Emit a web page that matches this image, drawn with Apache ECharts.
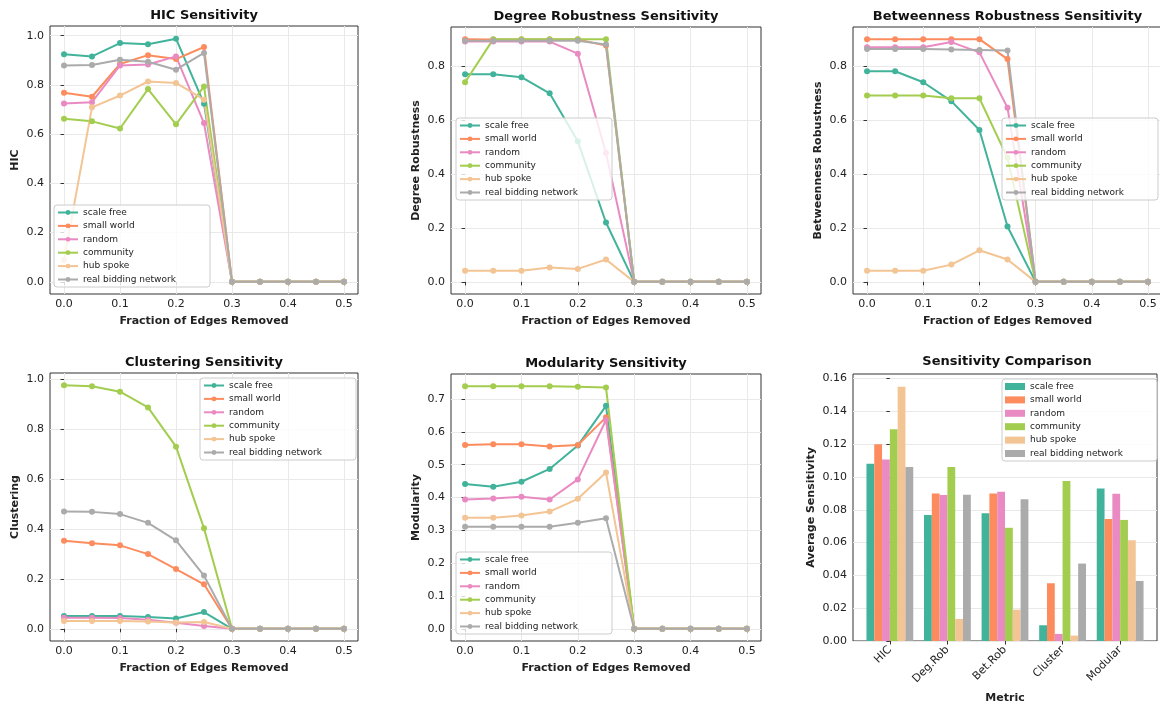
<!DOCTYPE html>
<html><head><meta charset="utf-8">
<script src="https://cdn.jsdelivr.net/npm/echarts@6/dist/echarts.min.js"></script>
<style>html,body{margin:0;padding:0;background:#fff}#c{width:1160px;height:704px}</style>
</head><body><div id="c"></div>
<script>
// ---------- data ----------
const fractions = [0, 0.05, 0.1, 0.15, 0.2, 0.25, 0.3, 0.35, 0.4, 0.45, 0.5];
const networks = ['scale free', 'small world', 'random', 'community', 'hub spoke', 'real bidding network'];
const colors = ['#42b39b', '#fc8c5e', '#e98ac2', '#a3cd4f', '#f3c494', '#ababab'];

// rows follow the order of `networks`
const hicValues = [
  [0.925, 0.916, 0.970, 0.965, 0.988, 0.724, 0, 0, 0, 0, 0],
  [0.768, 0.752, 0.885, 0.921, 0.905, 0.954, 0, 0, 0, 0, 0],
  [0.725, 0.730, 0.879, 0.883, 0.916, 0.645, 0, 0, 0, 0, 0],
  [0.663, 0.652, 0.623, 0.783, 0.640, 0.794, 0, 0, 0, 0, 0],
  [0.089, 0.709, 0.757, 0.814, 0.808, 0.740, 0, 0, 0, 0, 0],
  [0.879, 0.881, 0.902, 0.894, 0.862, 0.930, 0, 0, 0, 0, 0]
];
const degreeValues = [
  [0.770, 0.770, 0.759, 0.699, 0.521, 0.220, 0, 0, 0, 0, 0],
  [0.900, 0.899, 0.899, 0.899, 0.899, 0.876, 0, 0, 0, 0, 0],
  [0.891, 0.891, 0.891, 0.891, 0.846, 0.478, 0, 0, 0, 0, 0],
  [0.740, 0.900, 0.900, 0.900, 0.900, 0.900, 0, 0, 0, 0, 0],
  [0.041, 0.041, 0.041, 0.053, 0.048, 0.083, 0, 0, 0, 0, 0],
  [0.894, 0.894, 0.894, 0.894, 0.894, 0.880, 0, 0, 0, 0, 0]
];
const betweennessValues = [
  [0.781, 0.781, 0.740, 0.670, 0.563, 0.205, 0, 0, 0, 0, 0],
  [0.900, 0.900, 0.900, 0.900, 0.900, 0.826, 0, 0, 0, 0, 0],
  [0.870, 0.870, 0.870, 0.889, 0.851, 0.646, 0, 0, 0, 0, 0],
  [0.691, 0.691, 0.691, 0.681, 0.681, 0.460, 0, 0, 0, 0, 0],
  [0.041, 0.041, 0.041, 0.064, 0.117, 0.083, 0, 0, 0, 0, 0],
  [0.863, 0.863, 0.863, 0.862, 0.860, 0.858, 0, 0, 0, 0, 0]
];
const clusteringValues = [
  [0.051, 0.051, 0.051, 0.047, 0.041, 0.067, 0, 0, 0, 0, 0],
  [0.352, 0.342, 0.334, 0.299, 0.239, 0.178, 0, 0, 0, 0, 0],
  [0.044, 0.044, 0.043, 0.036, 0.024, 0.011, 0, 0, 0, 0, 0],
  [0.975, 0.971, 0.949, 0.886, 0.729, 0.402, 0, 0, 0, 0, 0],
  [0.031, 0.031, 0.031, 0.029, 0.025, 0.027, 0, 0, 0, 0, 0],
  [0.469, 0.468, 0.459, 0.424, 0.354, 0.213, 0, 0, 0, 0, 0]
];
const modularityValues = [
  [0.441, 0.433, 0.448, 0.487, 0.558, 0.679, 0, 0, 0, 0, 0],
  [0.560, 0.562, 0.562, 0.555, 0.560, 0.644, 0, 0, 0, 0, 0],
  [0.394, 0.397, 0.402, 0.394, 0.455, 0.636, 0, 0, 0, 0, 0],
  [0.739, 0.739, 0.739, 0.739, 0.737, 0.735, 0, 0, 0, 0, 0],
  [0.338, 0.338, 0.345, 0.357, 0.396, 0.476, 0, 0, 0, 0, 0],
  [0.311, 0.311, 0.311, 0.311, 0.323, 0.337, 0, 0, 0, 0, 0]
];
const metricLabels = ['HIC', 'Deg.Rob', 'Bet.Rob', 'Cluster', 'Modular'];
const sensitivityValues = [
  [0.108, 0.0768, 0.0779, 0.0096, 0.0929],
  [0.120, 0.0899, 0.0899, 0.0352, 0.0744],
  [0.1106, 0.0890, 0.0910, 0.0043, 0.0897],
  [0.129, 0.106, 0.069, 0.0976, 0.0738],
  [0.155, 0.0134, 0.0191, 0.0033, 0.0614],
  [0.106, 0.0892, 0.0864, 0.0472, 0.0366]
];
const xTicks = [0, 0.1, 0.2, 0.3, 0.4, 0.5];
const yTicksUnit = [0, 0.2, 0.4, 0.6, 0.8, 1.0];
const yTicksRob = [0, 0.2, 0.4, 0.6, 0.8];
const yTicksMod = [0, 0.1, 0.2, 0.3, 0.4, 0.5, 0.6, 0.7];
const yTicksSens = [0, 0.02, 0.04, 0.06, 0.08, 0.10, 0.12, 0.14, 0.16];
const metricTicks = [0, 1, 2, 3, 4];

// ---------- styling / layout ----------
const FONT = 'DejaVu Sans';
const TXT = '#222';
const panels = [
  {title: 'HIC Sensitivity', ylabel: 'HIC', values: hicValues, grid: {left: 50, top: 26, width: 308, height: 268}, y: [-0.0495, 1.0395], yt: yTicksUnit, legend: [54, 205]},
  {title: 'Degree Robustness Sensitivity', ylabel: 'Degree Robustness', values: degreeValues, grid: {left: 451, top: 27, width: 310, height: 267}, y: [-0.045, 0.945], yt: yTicksRob, legend: [456, 118]},
  {title: 'Betweenness Robustness Sensitivity', ylabel: 'Betweenness Robustness', values: betweennessValues, grid: {left: 853, top: 27, width: 309, height: 267}, y: [-0.045, 0.945], yt: yTicksRob, legend: [1002, 118]},
  {title: 'Clustering Sensitivity', ylabel: 'Clustering', values: clusteringValues, grid: {left: 50, top: 373, width: 308, height: 268}, y: [-0.04875, 1.02375], yt: yTicksUnit, legend: [200, 378]},
  {title: 'Modularity Sensitivity', ylabel: 'Modularity', values: modularityValues, grid: {left: 451, top: 374, width: 310, height: 267}, y: [-0.037, 0.776], yt: yTicksMod, legend: [456, 552]}
];
const barPanel = {title: 'Sensitivity Comparison', ylabel: 'Average Sensitivity', grid: {left: 853, top: 374, width: 304, height: 267}, y: [0, 0.16275], legend: [1002, 379]};

const grids = [], xAxes = [], yAxes = [], series = [], legends = [], graphics = [];

function gridOf(g) {
  return Object.assign({show: true, borderColor: '#333', borderWidth: 1, backgroundColor: 'transparent', containLabel: false, outerBoundsMode: 'none'}, g);
}
function tickStyle(vals) {
  return {show: true, inside: false, length: 3.5, customValues: vals, lineStyle: {color: '#333', width: 1}};
}
function legendAt(pos, isBar) {
  const l = {
    orient: 'vertical', left: pos[0], top: pos[1],
    data: networks.slice(),
    itemWidth: 20, itemHeight: isBar ? 7 : 6, itemGap: 2.4,
    padding: [2, 6, 2, 3],
    backgroundColor: 'rgba(255,255,255,0.8)', borderColor: '#cccccc', borderWidth: 1, borderRadius: 3,
    textStyle: {fontSize: 9, fontFamily: FONT, color: TXT, lineHeight: 11, width: 121},
    selectedMode: false, z: 10
  };
  if (isBar) l.icon = 'rect';
  return l;
}
function titleText(text, cx, cy) {
  return {type: 'text', x: cx, y: cy, z: 100,
    style: {text, fontFamily: FONT, fontWeight: 'bold', fontSize: 13, fill: '#111', textAlign: 'center', textVerticalAlign: 'middle'}};
}

panels.forEach((p, i) => {
  grids.push(gridOf(p.grid));
  xAxes.push({
    type: 'value', gridIndex: i, min: -0.025, max: 0.525,
    name: 'Fraction of Edges Removed', nameLocation: 'middle', nameGap: 22,
    nameTextStyle: {fontFamily: FONT, fontWeight: 'bold', fontSize: 11, color: TXT},
    axisLine: {show: false}, axisTick: tickStyle(xTicks),
    axisLabel: {customValues: xTicks, formatter: v => v.toFixed(1), fontFamily: FONT, fontSize: 11, color: TXT, margin: 5},
    splitLine: {show: true, lineStyle: {color: '#e9e9e9', width: 1}}
  });
  yAxes.push({
    type: 'value', gridIndex: i, min: p.y[0], max: p.y[1],
    name: p.ylabel, nameLocation: 'middle', nameGap: 29, nameRotate: 90,
    nameTextStyle: {fontFamily: FONT, fontWeight: 'bold', fontSize: 11, color: TXT},
    axisLine: {show: false}, axisTick: tickStyle(p.yt),
    axisLabel: {customValues: p.yt, formatter: v => v.toFixed(1), fontFamily: FONT, fontSize: 11, color: TXT, margin: 6},
    splitLine: {show: true, lineStyle: {color: '#e9e9e9', width: 1}}
  });
  networks.forEach((n, k) => {
    series.push({
      type: 'line', name: n, xAxisIndex: i, yAxisIndex: i,
      data: fractions.map((f, j) => [f, p.values[k][j]]),
      symbol: 'circle', symbolSize: 6, showSymbol: true,
      lineStyle: {color: colors[k], width: 2}, itemStyle: {color: colors[k]},
      emphasis: {disabled: true}, animation: false
    });
  });
  legends.push(legendAt(p.legend, false));
  graphics.push(titleText(p.title, p.grid.left + p.grid.width / 2, p.grid.top - 10));
});

// bar panel
const bi = panels.length;
grids.push(gridOf(barPanel.grid));
xAxes.push({
  type: 'value', gridIndex: bi, min: -0.64, max: 4.64,
  name: 'Metric', nameLocation: 'middle', nameGap: 52,
  nameTextStyle: {fontFamily: FONT, fontWeight: 'bold', fontSize: 11, color: TXT},
  axisLine: {show: false}, axisTick: tickStyle(metricTicks),
  axisLabel: {customValues: metricTicks, formatter: v => metricLabels[Math.round(v)], rotate: 45, fontFamily: FONT, fontSize: 11, color: TXT, margin: 7},
  splitLine: {show: false}
});
yAxes.push({
  type: 'value', gridIndex: bi, min: barPanel.y[0], max: barPanel.y[1],
  name: barPanel.ylabel, nameLocation: 'middle', nameGap: 36, nameRotate: 90,
  nameTextStyle: {fontFamily: FONT, fontWeight: 'bold', fontSize: 11, color: TXT},
  axisLine: {show: false}, axisTick: tickStyle(yTicksSens),
  axisLabel: {customValues: yTicksSens, formatter: v => v.toFixed(2), fontFamily: FONT, fontSize: 11, color: TXT, margin: 6},
  splitLine: {show: true, lineStyle: {color: '#e9e9e9', width: 1}}
});
networks.forEach((n, k) => {
  series.push({
    type: 'bar', name: n, xAxisIndex: bi, yAxisIndex: bi,
    data: metricLabels.map((m, j) => [j, sensitivityValues[k][j]]),
    barWidth: 7.8, barGap: '0%',
    itemStyle: {color: colors[k]},
    emphasis: {disabled: true}, animation: false
  });
});
legends.push(legendAt(barPanel.legend, true));
graphics.push(titleText(barPanel.title, 1007, barPanel.grid.top - 12));

const chart = echarts.init(document.getElementById('c'), null, {renderer: 'canvas'});
chart.setOption({
  backgroundColor: '#ffffff',
  animation: false,
  textStyle: {fontFamily: FONT},
  grid: grids, xAxis: xAxes, yAxis: yAxes, series, legend: legends, graphic: graphics
});
</script></body></html>
